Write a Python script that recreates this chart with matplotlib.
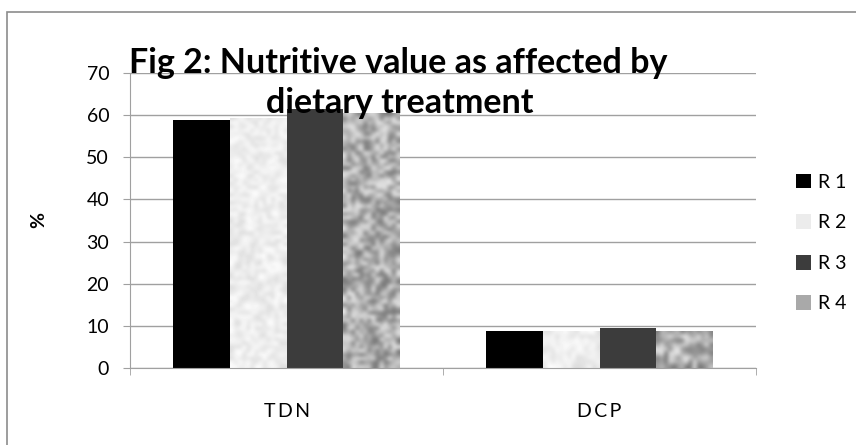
import numpy as np
import matplotlib
matplotlib.use('Agg')
import matplotlib.pyplot as plt
from matplotlib.patches import Rectangle

categories = ['T\u2009D\u2009N', 'D\u2009C\u2009P']
series = ['R 1', 'R 2', 'R 3', 'R 4']
values = {
    'R 1': [58.8, 8.8],
    'R 2': [59.4, 8.8],
    'R 3': [61.5, 9.5],
    'R 4': [60.4, 8.8],
}
colors = {'R 1': '#000000', 'R 2': '#ececec', 'R 3': '#3c3c3c', 'R 4': '#a9a9a9'}
# noisy textures for the two patterned series (lo, hi grey levels)
textures = {'R 2': (0.86, 1.0), 'R 4': (0.45, 0.92)}

plt.rcParams['font.family'] = ['Lato', 'DejaVu Sans']

fig = plt.figure(figsize=(8.56, 4.45), dpi=100)
W, H = 856, 445
ax = fig.add_axes([130 / W, 1 - 368 / H, 626 / W, 295 / H])

x = np.arange(len(categories))
bw = 0.182
rng = np.random.default_rng(3)
for i, s in enumerate(series):
    offs = (i - 1.5) * bw
    bars = ax.bar(x + offs, values[s], bw, color=colors[s], zorder=2, linewidth=0)
    if s in textures:
        lo, hi = textures[s]
        for b in bars:
            x0, y0 = b.get_x(), b.get_y()
            w, h = b.get_width(), b.get_height()
            ny = max(int(h / 0.9), 3)
            arr = lo + (hi - lo) * rng.random((ny, 14))
            img = ax.imshow(arr, cmap='gray', vmin=0, vmax=1,
                            extent=(x0, x0 + w, y0, y0 + h), aspect='auto',
                            interpolation='bicubic', zorder=2.5)
            img.set_clip_path(b)

ax.set_xlim(-0.5, 1.5)
ax.set_ylim(0, 70)
ax.set_yticks(np.arange(0, 71, 10))
ax.yaxis.grid(True, color='#a0a0a0', linewidth=1)
ax.set_axisbelow(True)
for sp in ['top', 'right']:
    ax.spines[sp].set_visible(False)
ax.spines['left'].set_color('#a0a0a0')
ax.spines['bottom'].set_color('#a0a0a0')
ax.set_xticks(x)
ax.set_xticklabels(categories, fontsize=14)
ax.tick_params(axis='x', length=0, pad=25)
ax.set_xticks([-0.5, 0.5, 1.5], minor=True)
ax.tick_params(axis='x', which='minor', length=5, color='#a0a0a0')
ax.tick_params(axis='y', length=5, color='#a0a0a0', labelsize=14, pad=10)

ax.set_ylabel('%', fontsize=14, fontweight='bold', labelpad=28)

# legend
handles = [Rectangle((0, 0), 1, 1, facecolor=colors[s], edgecolor='none') for s in series]
fig.legend(handles, series, loc='center left', bbox_to_anchor=(778 / W, 1 - 243 / H),
           frameon=False, fontsize=14, handlelength=0.8, handleheight=0.8,
           handletextpad=0.35, labelspacing=1.2)

# title, two lines
fig.text(398 / W, 1 - 73 / H, 'Fig 2: Nutritive value as affected by', ha='center',
         va='baseline', fontsize=24.5, fontweight='bold')
fig.text(400 / W, 1 - 113 / H, 'dietary treatment', ha='center', va='baseline',
         fontsize=24.5, fontweight='bold')

# chart area border
fig.add_artist(Rectangle((7 / W, -0.1), 1.2, 1 - 12 / H + 0.1, transform=fig.transFigure,
                         fill=False, edgecolor='#8c8c8c', linewidth=1.2))

fig.savefig('out.png', dpi=100)
